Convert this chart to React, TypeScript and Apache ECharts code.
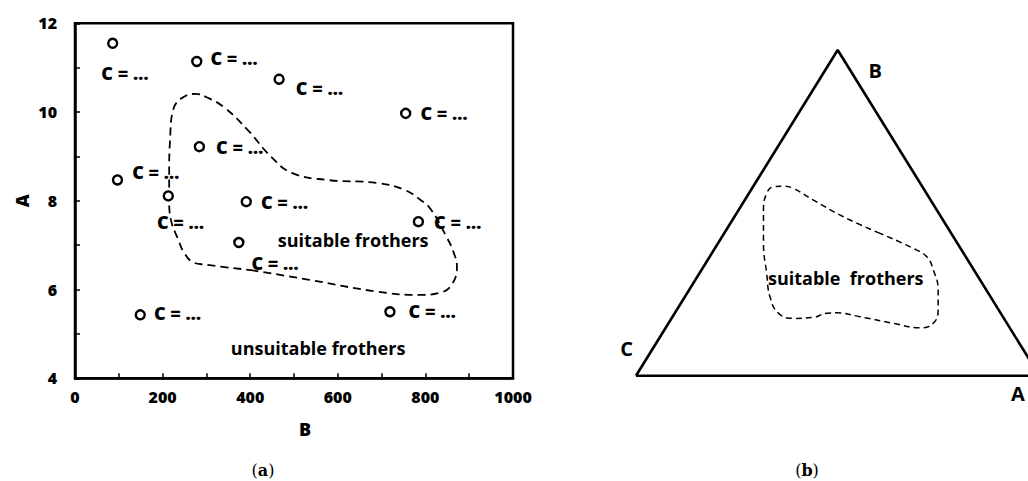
import React, { useEffect, useRef } from "react";
import * as echarts from "echarts";

// Left panel: measured points (B on x, A on y)
const pointsB = [86, 278, 466, 755, 284, 97, 213, 391, 784, 374, 149, 719];
const pointsA = [11.55, 11.14, 10.74, 9.97, 9.22, 8.47, 8.11, 7.98, 7.53, 7.06, 5.43, 5.5];
const pointLabel = "C = …";

// Dashed boundary of the suitable-frother region (left panel, data space)
const regionB = [401, 535, 692, 787, 834, 860, 872, 864, 848, 813, 789, 751, 692, 575, 495, 448, 394, 340, 299, 276, 245, 224, 217, 215, 215, 219, 236, 248, 269, 299, 401];
const regionA = [6.44, 6.22, 5.95, 5.88, 5.93, 6.11, 6.51, 6.85, 7.19, 7.8, 8.02, 8.25, 8.4, 8.47, 8.63, 8.99, 9.6, 10.11, 10.34, 10.41, 10.32, 10.05, 9.37, 8.63, 8.02, 7.57, 7.12, 6.85, 6.62, 6.56, 6.44];

// Right panel: triangle (normalised plane coordinates)
const triangleU = [0, 1, 0.5, 0];
const triangleV = [0, 0, 1, 0];
const ternaryRegionU = [0.605, 0.514, 0.44, 0.39, 0.365, 0.34, 0.324, 0.316, 0.316, 0.324, 0.332, 0.353, 0.39, 0.44, 0.473, 0.498, 0.555, 0.638, 0.704, 0.737, 0.749, 0.749, 0.737, 0.721, 0.687, 0.605];
const ternaryRegionV = [0.437, 0.488, 0.539, 0.575, 0.582, 0.58, 0.56, 0.509, 0.407, 0.314, 0.243, 0.192, 0.176, 0.179, 0.192, 0.193, 0.181, 0.161, 0.147, 0.161, 0.202, 0.263, 0.325, 0.365, 0.391, 0.437];

// label offsets (layout only)
const labelOffsets = [[-22, 30], [3, -3], [6, 9], [4, 0], [6, 0], [4, -8], [-22, 26], [4, 0], [5, 0], [2, 20], [3, -2], [8, -1]];

const FONT = "Open Sans";

export default function App() {
  const ref = useRef<HTMLDivElement>(null);
  useEffect(() => {
    if (!ref.current) return;
    const chart = echarts.init(ref.current, null, { renderer: "svg" });
    const txt = { fontFamily: FONT, fontWeight: 800 as const, color: "#000" };
    const annot = (xi: number, items: { v: number[]; t: string; size: number }[]) => ({
      type: "scatter",
      xAxisIndex: xi,
      yAxisIndex: xi,
      symbolSize: 1,
      silent: true,
      clip: false,
      z: 5,
      itemStyle: { color: "#fff", opacity: 0 },
      data: items.map((it) => ({
        value: it.v,
        label: {
          show: true, position: "inside", formatter: it.t, fontFamily: FONT, fontWeight: 700,
          color: "#000", opacity: 1, textBorderWidth: 0, fontSize: it.size,
        },
      })),
    });
    const tickStyle = { inside: true, length: 5, lineStyle: { color: "#000", width: 1.5 } };
    chart.setOption({
      animation: false,
      grid: [
        { left: 75, top: 23.3, width: 438, height: 355, show: true, borderColor: "#000", borderWidth: 2.5, outerBoundsMode: "none", containLabel: false },
        { left: 636, top: 50, width: 403.4, height: 325.7, outerBoundsMode: "none", containLabel: false },
      ],
      xAxis: [
        {
          type: "value", gridIndex: 0, min: 0, max: 1000, interval: 100,
          axisLine: { lineStyle: { color: "#000", width: 2.5 } },
          axisTick: tickStyle,
          splitLine: { show: false },
          axisLabel: { ...txt, fontSize: 16, margin: 11, formatter: (v: number) => (v % 200 === 0 ? String(v) : "") },
          name: "B", nameLocation: "middle", nameGap: 42,
          nameTextStyle: { ...txt, fontSize: 18, padding: [0, 0, 0, 22] },
        },
        { type: "value", gridIndex: 1, min: 0, max: 1, show: false },
      ],
      yAxis: [
        {
          type: "value", gridIndex: 0, min: 4, max: 12, interval: 1,
          axisLine: { lineStyle: { color: "#000", width: 2.5 } },
          axisTick: tickStyle,
          splitLine: { show: false },
          axisLabel: { ...txt, fontSize: 16, margin: 18, formatter: (v: number) => (v % 2 === 0 ? String(v) : "") },
          name: "A", nameLocation: "middle", nameGap: 44,
          nameTextStyle: { ...txt, fontSize: 18 },
        },
        { type: "value", gridIndex: 1, min: 0, max: 1, show: false },
      ],
      series: [
        {
          type: "line", xAxisIndex: 0, yAxisIndex: 0, smooth: 0.45, symbol: "none", silent: true,
          lineStyle: { color: "#000", width: 1.8, type: [8, 5] },
          data: regionB.map((b, i) => [b, regionA[i]]),
          z: 2,
        },
        {
          type: "scatter", xAxisIndex: 0, yAxisIndex: 0, symbol: "circle", symbolSize: 9,
          itemStyle: { color: "#fff", borderColor: "#000", borderWidth: 2.4, opacity: 1 },
          z: 4,
          data: pointsB.map((b, i) => ({
            value: [b, pointsA[i]],
            label: {
              show: true, position: "right", distance: 5, offset: labelOffsets[i],
              formatter: pointLabel, ...txt, fontSize: 18,
            },
          })),
        },
        annot(0, [
          { v: [635, 7.12], t: "suitable frothers", size: 18 },
          { v: [555, 4.68], t: "unsuitable frothers", size: 18 },
        ]),
        {
          type: "line", xAxisIndex: 1, yAxisIndex: 1, symbol: "none", silent: true, clip: false,
          lineStyle: { color: "#000", width: 2.6 },
          data: triangleU.map((u, i) => [u, triangleV[i]]),
        },
        {
          type: "line", xAxisIndex: 1, yAxisIndex: 1, smooth: 0.45, symbol: "none", silent: true, clip: false,
          lineStyle: { color: "#000", width: 1.5, type: [6, 4] },
          data: ternaryRegionU.map((u, i) => [u, ternaryRegionV[i]]),
        },
        annot(1, [
          { v: [0.593, 0.938], t: "B", size: 20 },
          { v: [-0.023, 0.085], t: "C", size: 20 },
          { v: [0.947, -0.056], t: "A", size: 20 },
          { v: [0.52, 0.299], t: "suitable  frothers", size: 18 },
        ]),
      ],
      graphic: [
        {
          type: "text", x: 263, y: 470,
          style: {
            text: "{p|(}{b|a}{p|)}", align: "center", verticalAlign: "middle",
            rich: {
              p: { fontFamily: "DejaVu Serif", fontSize: 16, fill: "#000" },
              b: { fontFamily: "DejaVu Serif", fontSize: 16, fontWeight: "bold", fill: "#000" },
            },
          },
        },
        {
          type: "text", x: 807, y: 470,
          style: {
            text: "{p|(}{b|b}{p|)}", align: "center", verticalAlign: "middle",
            rich: {
              p: { fontFamily: "DejaVu Serif", fontSize: 16, fill: "#000" },
              b: { fontFamily: "DejaVu Serif", fontSize: 16, fontWeight: "bold", fill: "#000" },
            },
          },
        },
      ],
    });
    return () => chart.dispose();
  }, []);
  return (
    <div
      ref={ref}
      style={{ position: "absolute", left: 0, top: 0, width: 1028, height: 481, background: "#fff" }}
    />
  );
}
